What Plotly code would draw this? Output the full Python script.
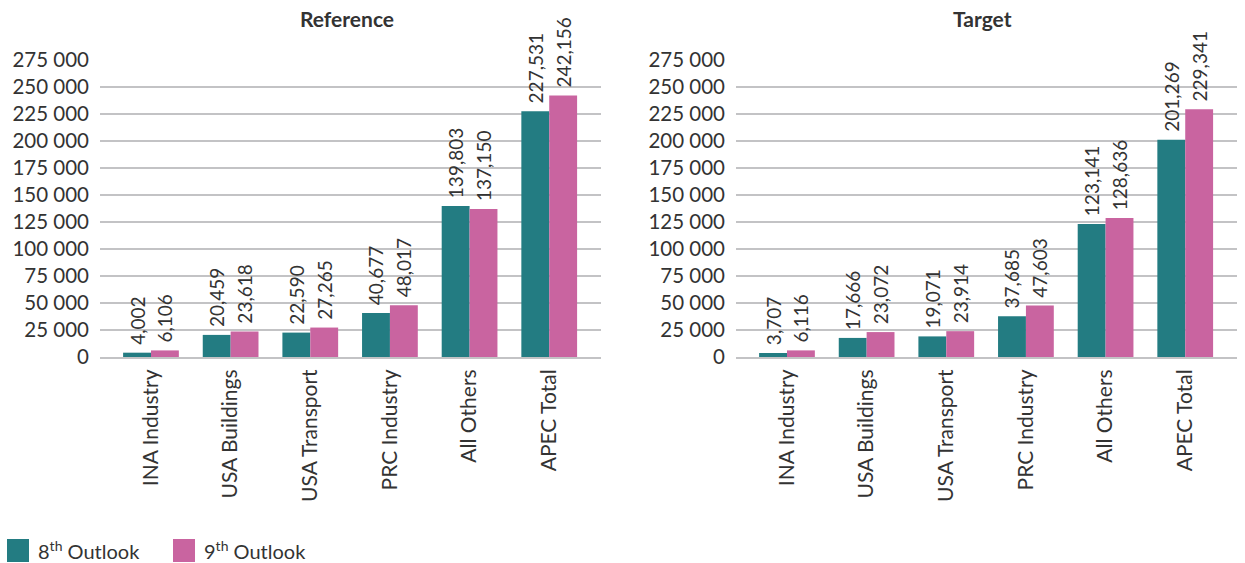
"""Reference vs target bar comparison, 8th vs 9th Outlook."""

import plotly.graph_objects as go

CATEGORIES = ["INA Industry", "USA Buildings", "USA Transport", "PRC Industry", "All Others", "APEC Total"]

REF_8TH = [4002, 20459, 22590, 40677, 139803, 227531]
REF_9TH = [6106, 23618, 27265, 48017, 137150, 242156]
TGT_8TH = [3707, 17666, 19071, 37685, 123141, 201269]
TGT_9TH = [6116, 23072, 23914, 47603, 128636, 229341]

Y_TICKS = [0, 25000, 50000, 75000, 100000, 125000, 150000, 175000, 200000, 225000, 250000, 275000]
Y_TICK_TEXT = ["0", "25 000", "50 000", "75 000", "100 000", "125 000", "150 000",
               "175 000", "200 000", "225 000", "250 000", "275 000"]

PANELS = ["Reference", "Target"]
SERIES = ["8<sup>th</sup> Outlook", "9<sup>th</sup> Outlook"]
COLORS = ["#237C82", "#C964A0"]

FONT = "Lato, 'Open Sans', sans-serif"
TEXT_COLOR = "#333333"
GRID_COLOR = "#C3C3C5"

W, H = 1245, 563


def px_x(p):
    return p / W


def px_y(p):
    return (H - p) / H


fig = go.Figure()

panel_data = [(REF_8TH, REF_9TH), (TGT_8TH, TGT_9TH)]
for i, (s8, s9) in enumerate(panel_data):
    xa = "x" if i == 0 else "x2"
    ya = "y" if i == 0 else "y2"
    for name, vals, color in zip(SERIES, (s8, s9), COLORS):
        fig.add_trace(
            go.Bar(
                x=CATEGORIES,
                y=vals,
                name=name,
                marker=dict(color=color, line=dict(width=0)),
                # leading nbsp gives the small gap between bar top and label
                texttemplate="\u00a0%{y:,}",
                textposition="outside",
                textangle=-90,
                constraintext="none",
                cliponaxis=False,
                textfont=dict(family=FONT, size=19, color=TEXT_COLOR),
                xaxis=xa,
                yaxis=ya,
                showlegend=False,
                hoverinfo="skip",
            )
        )

x_domains = [[px_x(100), px_x(601)], [px_x(736), px_x(1237)]]
y_domain = [px_y(357), px_y(60)]

axis_common_x = dict(
    range=[-0.64, 5.65],
    showgrid=False,
    showline=True,
    linecolor=GRID_COLOR,
    linewidth=2,
    ticks="",
    tickangle=-90,
    ticklabelstandoff=2,
    tickfont=dict(family=FONT, size=21, color=TEXT_COLOR),
    automargin=False,
)
axis_common_y = dict(
    range=[0, 275000],
    domain=y_domain,
    tickvals=Y_TICKS,
    ticktext=Y_TICK_TEXT,
    showgrid=True,
    gridcolor=GRID_COLOR,
    gridwidth=2,
    zeroline=False,
    showline=False,
    ticks="",
    ticklabelstandoff=10,
    tickfont=dict(family=FONT, size=20.5, color=TEXT_COLOR),
    automargin=False,
)

fig.update_layout(
    width=W,
    height=H,
    margin=dict(l=0, r=0, t=0, b=0),
    plot_bgcolor="white",
    paper_bgcolor="white",
    barmode="group",
    bargap=0.3,
    bargroupgap=0,
    showlegend=False,
    font=dict(family=FONT, color=TEXT_COLOR),
    xaxis=dict(domain=x_domains[0], anchor="y", **axis_common_x),
    yaxis=dict(anchor="x", **axis_common_y),
    xaxis2=dict(domain=x_domains[1], anchor="y2", **axis_common_x),
    yaxis2=dict(anchor="x2", **axis_common_y),
)

# panel titles
for title, dom in zip(PANELS, x_domains):
    fig.add_annotation(
        text=f"<b>{title}</b>",
        x=(dom[0] + dom[1]) / 2 - 0.003,
        y=px_y(18),
        xref="paper",
        yref="paper",
        xanchor="center",
        yanchor="middle",
        showarrow=False,
        font=dict(family=FONT, size=21, color=TEXT_COLOR),
    )

# legend drawn as swatches + labels at the bottom left
legend_x = [7, 173]
for name, color, lx in zip(SERIES, COLORS, legend_x):
    fig.add_shape(
        type="rect",
        xref="paper",
        yref="paper",
        x0=px_x(lx),
        x1=px_x(lx + 22),
        y0=px_y(562),
        y1=px_y(539),
        fillcolor=color,
        line=dict(width=0),
    )
    fig.add_annotation(
        text=name,
        x=px_x(lx + 29),
        y=px_y(550),
        xref="paper",
        yref="paper",
        xanchor="left",
        yanchor="middle",
        showarrow=False,
        font=dict(family=FONT, size=20, color=TEXT_COLOR),
    )

# drop the default body margin so the figure sits at the window's top-left
fig.write_html(
    "out.html",
    config={"displayModeBar": False},
    post_script="document.body.style.margin='0';",
)
